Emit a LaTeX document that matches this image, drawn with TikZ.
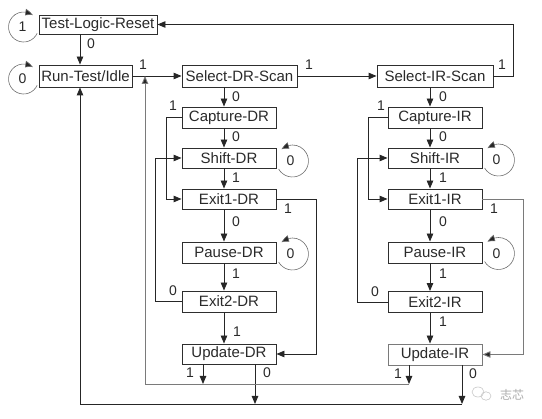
\documentclass[tikz,border=0pt]{standalone}
\usepackage{fontspec}
\setmainfont{Liberation Sans}
\newfontfamily\cjkfont{Noto Sans CJK SC}
\usetikzlibrary{arrows.meta,calc,bending}
\definecolor{txt}{HTML}{2A2A2A}
\definecolor{boxc}{HTML}{2E2E2E}
\definecolor{linec}{HTML}{262626}
\definecolor{lightc}{HTML}{7A7A7A}
\begin{document}
\begin{tikzpicture}[x=1pt,y=-1pt,
  state/.style={draw=boxc, line width=0.9pt, fill=white, inner sep=0pt,
    minimum width=94pt, minimum height=21pt,
    font=\fontsize{15}{15}\selectfont, text=txt},
  lbl/.style={font=\fontsize{14}{14}\selectfont, text=txt, inner sep=0pt},
  conn/.style={draw=linec, line width=0.9pt},
  arr/.style={conn, -{Triangle[length=8pt,width=6.5pt]}},
  larr/.style={draw=lightc, line width=0.9pt, -{Triangle[length=8pt,width=6.5pt,fill=linec]}},
  loopc/.style={draw=gray!85!black, line width=0.6pt, -{Triangle[length=8pt,width=6.5pt,fill=linec,bend]}}]
\useasboundingbox (0,0) rectangle (542,419);

% ---- states ----
\node[state, minimum width=118pt, minimum height=19pt] (TLR) at (98,24.5) {Test-Logic-Reset};
\node[state, minimum width=93pt, minimum height=22pt] (RTI) at (85.5,76) {Run-Test/Idle};
\node[state, minimum width=115pt, minimum height=22pt] (SDR) at (239.5,76) {Select-DR-Scan};
\node[state, minimum width=116pt, minimum height=22pt] (SIR) at (435,76) {Select-IR-Scan};

\node[state] (CDR)  at (229,117.5) {Capture-DR};
\node[state, minimum height=20pt] (ShDR) at (229,158) {Shift-DR};
\node[state, minimum height=20pt] (E1DR) at (229,199) {Exit1-DR};
\node[state] (PDR)  at (229,252.5) {Pause-DR};
\node[state] (E2DR) at (229,301.5) {Exit2-DR};
\node[state, minimum height=20pt] (UDR)  at (229,354) {Update-DR};

\node[state] (CIR)  at (435,117.5) {Capture-IR};
\node[state, minimum height=20pt] (ShIR) at (435,158) {Shift-IR};
\node[state, minimum height=20pt] (E1IR) at (435,199) {Exit1-IR};
\node[state] (PIR)  at (435,252.5) {Pause-IR};
\node[state] (E2IR) at (435,302) {Exit2-IR};
\node[state, draw=lightc] (UIR)  at (435,354.5) {Update-IR};

% ---- helper coordinates ----
\coordinate (lx) at (80,0);
\coordinate (jx) at (145,0);
\coordinate (dx) at (224,0);
\coordinate (ix) at (430,0);
\coordinate (dl1) at (166,0);
\coordinate (dl2) at (155,0);
\coordinate (dr1) at (316,0);
\coordinate (il1) at (368,0);
\coordinate (il2) at (357,0);
\coordinate (ir1) at (523,0);
\coordinate (rr) at (513,0);
\coordinate (b1) at (0,384);
\coordinate (b2) at (0,404);
\coordinate (u1x) at (203,0);
\coordinate (u0x) at (255,0);
\coordinate (v1x) at (409,0);
\coordinate (v0x) at (462,0);

% ---- self loops ----
\draw[loopc] ($(TLR.west)+(-15,2.5)+(25:15)$) arc[start angle=25,end angle=308,radius=15];
\node[lbl] at ($(TLR.west)+(-16,2.5)$) {1};
\draw[loopc] ($(RTI.west)+(-15,3)+(25:15)$) arc[start angle=25,end angle=308,radius=15];
\node[lbl] at ($(RTI.west)+(-16,3)$) {0};
\draw[loopc] ($(ShDR.east)+(16,3)+(150:16)$) arc[start angle=150,end angle=-133,radius=16];
\node[lbl] at ($(ShDR.east)+(14,3)$) {0};
\draw[loopc] ($(PDR.east)+(16,1.5)+(150:16)$) arc[start angle=150,end angle=-133,radius=16];
\node[lbl] at ($(PDR.east)+(14,1.5)$) {0};
\draw[loopc] ($(ShIR.east)+(16,2)+(150:16)$) arc[start angle=150,end angle=-133,radius=16];
\node[lbl] at ($(ShIR.east)+(14,2)$) {0};
\draw[loopc] ($(PIR.east)+(16,1)+(150:16)$) arc[start angle=150,end angle=-133,radius=16];
\node[lbl] at ($(PIR.east)+(14,1)$) {0};

% ---- top transitions ----
\draw[arr] (TLR.south -| lx) -- (RTI.north -| lx);
\node[lbl] at (91,44) {0};
\draw[arr] (RTI.east) -- (SDR.west);
\node[lbl] at (143,65) {1};
\draw[arr] (SDR.east) -- (SIR.west);
\node[lbl] at (309,65) {1};
\draw[arr] (SIR.east) -| (rr |- TLR.east) -- (TLR.east);
\node[lbl] at (502,65) {1};

% ---- DR column ----
\draw[arr] (SDR.south -| dx) -- (CDR.north -| dx);   \node[lbl] at (236,97) {0};
\draw[arr] (CDR.south -| dx) -- (ShDR.north -| dx);  \node[lbl] at (236,137) {0};
\draw[arr] (ShDR.south -| dx) -- (E1DR.north -| dx); \node[lbl] at (236,178) {1};
\draw[arr] (E1DR.south -| dx) -- (PDR.north -| dx);  \node[lbl] at (236,222) {0};
\draw[arr] (PDR.south -| dx) -- (E2DR.north -| dx);  \node[lbl] at (236,274) {1};
\draw[arr] (E2DR.south -| dx) -- (UDR.north -| dx);  \node[lbl] at (237,332) {1};
\draw[arr] (CDR.west) -| (dl1 |- E1DR.west) -- (E1DR.west);  \node[lbl] at (173,106) {1};
\draw[arr] (E2DR.west) -| (dl2 |- ShDR.west) -- (ShDR.west); \node[lbl] at (173,291) {0};
\draw[arr] (E1DR.east) -| (dr1 |- UDR.east) -- (UDR.east);   \node[lbl] at (288,209) {1};

% ---- IR column ----
\draw[arr] (SIR.south -| ix) -- (CIR.north -| ix);   \node[lbl] at (443,97) {0};
\draw[arr] (CIR.south -| ix) -- (ShIR.north -| ix);  \node[lbl] at (443,137) {0};
\draw[arr] (ShIR.south -| ix) -- (E1IR.north -| ix); \node[lbl] at (443,178) {1};
\draw[arr] (E1IR.south -| ix) -- (PIR.north -| ix);  \node[lbl] at (443,222) {0};
\draw[arr] (PIR.south -| ix) -- (E2IR.north -| ix);  \node[lbl] at (443,274) {1};
\draw[arr] (E2IR.south -| ix) -- (UIR.north -| ix);  \node[lbl] at (443,322) {1};
\draw[arr] (CIR.west) -| (il1 |- E1IR.west) -- (E1IR.west);  \node[lbl] at (381,106) {1};
\draw[arr] (E2IR.west) -| (il2 |- ShIR.west) -- (ShIR.west); \node[lbl] at (375,292) {0};
\draw[larr] (E1IR.east) -| (ir1 |- UIR.east) -- (UIR.east);  \node[lbl] at (494,209) {1};

% ---- update exits ----
\draw[arr] (UDR.south -| u1x) -- (b1 -| u1x); \node[lbl] at (190,373) {1};
\draw[arr] (UDR.south -| u0x) -- (b2 -| u0x); \node[lbl] at (267,373) {0};
\draw[arr] (UIR.south -| v1x) -- (b1 -| v1x); \node[lbl] at (398,374) {1};
\draw[arr] (UIR.south -| v0x) -- (b2 -| v0x); \node[lbl] at (473,374) {0};
\draw[larr] (b1 -| v1x) -- (b1 -| jx) -- (jx |- RTI.east);
\draw[arr] (b2 -| v0x) -- (b2 -| lx) -- (RTI.south -| lx);

% ---- watermark ----
\draw[gray!45, line width=0.6pt] (478,392) ellipse (6 and 5);
\draw[gray!45, line width=0.6pt] (486,396) ellipse (5 and 4.2);
\node[font=\cjkfont\fontsize{12}{12}\selectfont, text=gray!65, inner sep=0pt] (wm) at (512,395) {志芯};
\end{tikzpicture}
\end{document}
